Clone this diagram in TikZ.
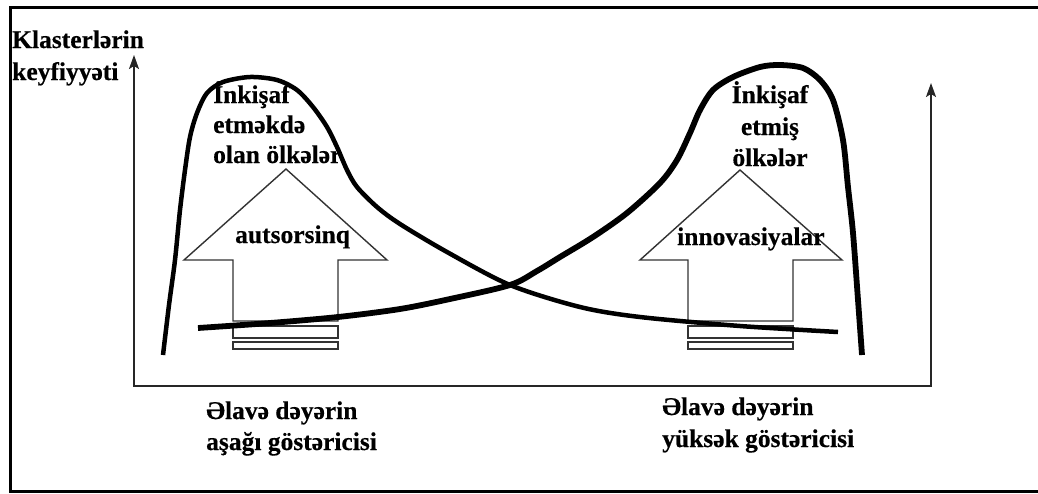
\documentclass[tikz,border=0pt]{standalone}
\usepackage{fontspec}
\setmainfont{Liberation Serif}[BoldFeatures={FakeBold=0.4}]
\usetikzlibrary{arrows.meta}
\begin{document}
\begin{tikzpicture}[x=1pt,y=-1pt,
  lbl/.style={inner sep=0pt, font=\fontsize{25.5}{30}\selectfont\bfseries},
  axisline/.style={line width=1.5pt, draw=black!85},
  bigarrow/.style={line width=1.4pt, draw=black!80, fill=white},
  curveA/.style={line width=4.5pt, line join=round},
  curveB/.style={line width=5.8pt, line join=round}
]
\useasboundingbox (0,0) rectangle (1038,493);
\fill[white] (-2,-2) rectangle (1040,495);
% outer frame (no right side visible)
\draw[line width=3pt] (1040,7) -- (10,7) -- (10,491) -- (1040,491);
% axes
\coordinate (yTop) at (134,55);
\coordinate (origin) at (134,386);
\coordinate (xEnd) at (931,386);
\coordinate (y2Top) at (931,83);
\draw[axisline, {Stealth[length=14pt,width=10pt,inset=3pt]}-{Stealth[length=14pt,width=10pt,inset=3pt]}]
  (yTop) -- (origin) -- (xEnd) -- (y2Top);
% left big arrow
\draw[bigarrow] (286,169) -- (387,260) -- (338,260) -- (338,321) -- (233,321) -- (233,260) -- (184,260) -- cycle;
\draw[bigarrow] (233,326) rectangle (338,338);
\draw[bigarrow] (233,342) rectangle (338,349);
% right big arrow
\draw[bigarrow] (740,170) -- (842,260) -- (793,260) -- (793,321) -- (688,321) -- (688,260) -- (640,260) -- cycle;
\draw[bigarrow] (688,326) rectangle (793,338);
\draw[bigarrow] (688,342) rectangle (793,349);
% left bell curve
\draw[curveA] plot[smooth, tension=0.5] coordinates {
 (163,355) (169,305) (175,260) (180,210) (185,170) (190,137) (197,113) (207,93)
 (223,82) (250,77) (277,80) (297,90) (313,107) (327,127) (337,147) (347,170)
 (357,187) (377,207) (400,224) (447,252) (510,285) (580,307) (640,317) (740,326) (838,332)};
% right bell curve
\draw[curveB] plot[smooth, tension=0.5] coordinates {
 (198,328) (270,323) (338,317) (400,309) (450,299) (510,285) (537,271) (560,257)
 (593,237) (627,213) (660,183) (677,160) (690,133) (700,110) (713,90) (733,77)
 (760,67) (780,65) (803,68) (820,80) (833,100) (843,140) (848,187) (853,233) (858,300) (862,355)};
% texts
\node[lbl, anchor=base west] (yl1) at (12,48) {Klasterlərin};
\node[lbl, anchor=base west] (yl2) at (12,80) {keyfiyyəti};
\node[lbl, anchor=base west] (d1) at (213,103) {İnkişaf};
\node[lbl, anchor=base west] (d2) at (213,133) {etməkdə};
\node[lbl, anchor=base west] (d3) at (213,163) {olan ölkələr};
\node[lbl, anchor=base] (e1) at (770,103) {İnkişaf};
\node[lbl, anchor=base] (e2) at (770,135) {etmiş};
\node[lbl, anchor=base] (e3) at (770,166) {ölkələr};
\node[lbl, anchor=base west] (out) at (235,243) {autsorsinq};
\node[lbl, anchor=base west] (inn) at (677,245) {innovasiyalar};
\node[lbl, anchor=base west] (b1) at (206,419) {Əlavə dəyərin};
\node[lbl, anchor=base west] (b2) at (206,450) {aşağı göstəricisi};
\node[lbl, anchor=base west] (c1) at (662,415) {Əlavə dəyərin};
\node[lbl, anchor=base west] (c2) at (662,447) {yüksək göstəricisi};
\end{tikzpicture}
\end{document}
